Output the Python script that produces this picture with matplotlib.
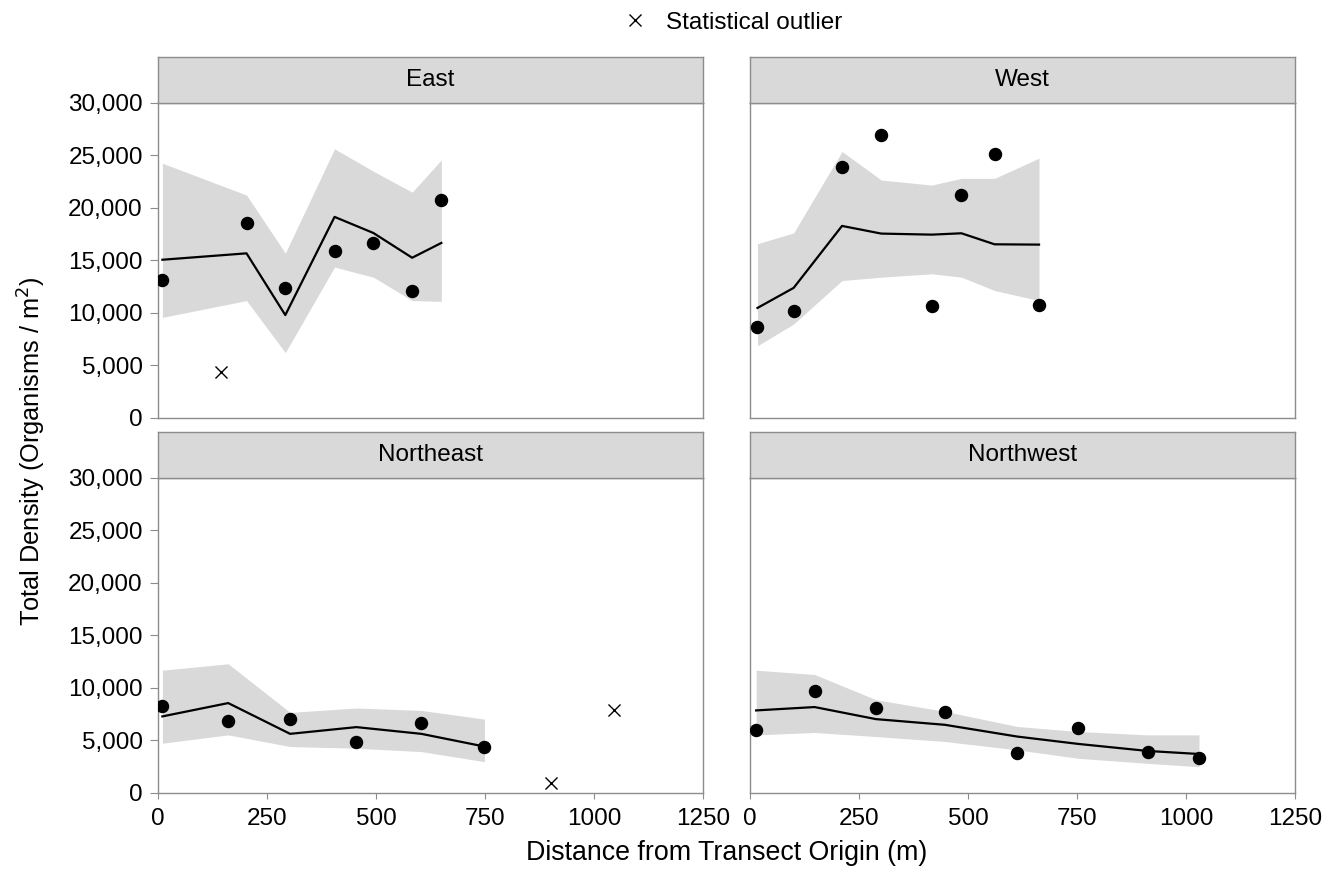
import matplotlib
matplotlib.use("Agg")
import matplotlib.pyplot as plt
from matplotlib.ticker import FuncFormatter
from matplotlib.lines import Line2D

plt.rcParams['font.family'] = ['Liberation Sans', 'DejaVu Sans']

# Observed densities per transect
east_x = [10, 203, 292, 405, 494, 583, 650]
east_y = [13100, 18600, 12350, 15900, 16650, 12070, 20780]
east_fit = [15070, 15680, 9800, 19150, 17620, 15260, 16670]
east_hi = [24260, 21230, 15700, 25630, 23500, 21500, 24580]
east_lo = [9580, 11180, 6230, 14370, 13410, 11180, 11110]
east_out_x = [145]
east_out_y = [4420]

west_x = [17, 100, 211, 301, 417, 485, 561, 663]
west_y = [8690, 10220, 23880, 26940, 10670, 21200, 25150, 10730]
west_fit = [10480, 12390, 18290, 17560, 17460, 17590, 16540, 16510]
west_hi = [16600, 17620, 25380, 22660, 22180, 22820, 22820, 24740]
west_lo = [6870, 8950, 13090, 13410, 13730, 13410, 12140, 11180]

ne_x = [10, 161, 303, 455, 604, 749]
ne_y = [8240, 6810, 7000, 4900, 6650, 4350]
ne_fit = [7290, 8560, 5630, 6270, 5630, 4420]
ne_hi = [11690, 12300, 7670, 8090, 7860, 7030]
ne_lo = [4740, 5530, 4420, 4260, 3940, 2980]
ne_out_x = [902, 1046]
ne_out_y = [910, 7930]

nw_x = [14, 148, 289, 447, 613, 753, 912, 1030]
nw_y = [6010, 9680, 8090, 7670, 3840, 6140, 3910, 3300]
nw_fit = [7860, 8180, 7030, 6490, 5370, 4670, 4000, 3710]
nw_hi = [11690, 11280, 8880, 7770, 6330, 5850, 5530, 5530]
nw_lo = [5530, 5760, 5370, 4900, 4100, 3300, 2820, 2500]

panels = [
    ("East", east_x, east_y, east_fit, east_hi, east_lo, east_out_x, east_out_y),
    ("West", west_x, west_y, west_fit, west_hi, west_lo, [], []),
    ("Northeast", ne_x, ne_y, ne_fit, ne_hi, ne_lo, ne_out_x, ne_out_y),
    ("Northwest", nw_x, nw_y, nw_fit, nw_hi, nw_lo, [], []),
]

fig = plt.figure(figsize=(13.37, 8.71), dpi=100)

frame_col = "#8c8c8c"
lefts = [0.1182, 0.5610]
width = 0.4075
bottoms = [0.5201, 0.0896]
height = 0.3617
strip_h = 0.0528

for i, (name, x, y, fit, hi, lo, ox, oy) in enumerate(panels):
    col, row = i % 2, i // 2
    ax = fig.add_axes([lefts[col], bottoms[row], width, height])
    ax.fill_between(x, lo, hi, color="#d9d9d9", linewidth=0, zorder=1)
    ax.plot(x, fit, color="black", linewidth=1.6, zorder=2)
    ax.scatter(x, y, s=75, color="black", zorder=3)
    if ox:
        ax.scatter(ox, oy, marker="x", s=75, color="black", linewidth=1.0, zorder=3)
    ax.set_xlim(0, 1250)
    ax.set_ylim(0, 30000)
    ax.set_xticks([0, 250, 500, 750, 1000, 1250])
    ax.set_yticks(range(0, 30001, 5000))
    ax.yaxis.set_major_formatter(FuncFormatter(lambda v, p: f"{int(v):,}"))
    for sp in ax.spines.values():
        sp.set_color(frame_col)
        sp.set_linewidth(1.0)
    ax.tick_params(direction="out", color=frame_col, labelsize=17.5)
    ax.tick_params(axis="y", length=6, pad=5)
    ax.tick_params(axis="x", length=4, pad=7)
    if col == 1:
        ax.tick_params(axis="y", left=False, labelleft=False)
    if row == 0:
        ax.tick_params(axis="x", bottom=False, labelbottom=False)

    # facet strip
    sax = fig.add_axes([lefts[col], bottoms[row] + height, width, strip_h])
    sax.set_facecolor("#d9d9d9")
    sax.set_xticks([])
    sax.set_yticks([])
    for sp in sax.spines.values():
        sp.set_color(frame_col)
        sp.set_linewidth(1.0)
    sax.text(0.5, 0.5, name, ha="center", va="center", fontsize=17.5,
             transform=sax.transAxes)

fig.text(0.5434, 0.021, "Distance from Transect Origin (m)", ha="center",
         va="center", fontsize=19.3)
fig.text(0.024, 0.482, "Total Density (Organisms / m$^2$)", ha="center",
         va="center", rotation=90, fontsize=18.3)

handle = Line2D([], [], marker="x", linestyle="none", color="black",
                markersize=9, markeredgewidth=1.0)
fig.legend([handle], ["Statistical outlier"], loc="center",
           bbox_to_anchor=(0.5435, 0.974), frameon=False, fontsize=17.5,
           handletextpad=0.3)

fig.savefig("out.png", dpi=100)
